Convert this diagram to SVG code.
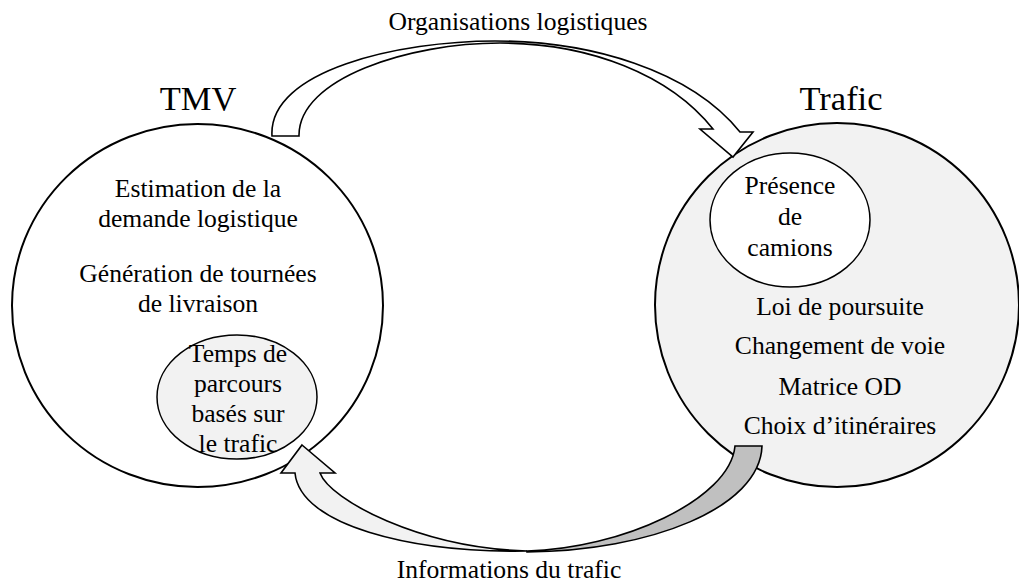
<svg xmlns="http://www.w3.org/2000/svg" width="1019" height="585" viewBox="0 0 1019 585">
<style>
text{font-family:'Liberation Serif','Times New Roman',Tinos,serif;font-size:25.6px;fill:#000;text-anchor:middle}
.title{font-size:34.5px}
.big{stroke:#000;stroke-width:2}
.small{stroke:#000;stroke-width:1.5}
.arrow{stroke:#000;stroke-width:1.6;stroke-linejoin:miter}
</style>
<rect width="1019" height="585" fill="#fff"/>
<g id="node-tmv">
<ellipse class="big" cx="197.5" cy="305.5" rx="185.5" ry="181.5" fill="#fff"/>
<text class="title" x="198" y="110">TMV</text>
<text x="198" y="197">Estimation de la</text>
<text x="198" y="227">demande logistique</text>
<text x="198" y="282">Génération de tournées</text>
<text x="198" y="312">de livraison</text>
</g>
<g id="node-temps">
<ellipse class="small" cx="237" cy="397" rx="80" ry="62" fill="#f2f2f2"/>
<text x="238" y="362">Temps de</text>
<text x="238" y="392">parcours</text>
<text x="238" y="422">basés sur</text>
<text x="238" y="452">le trafic</text>
</g>
<g id="node-trafic">
<ellipse class="big" cx="837" cy="305" rx="182" ry="182" fill="#f2f2f2"/>
<text class="title" x="841" y="110">Trafic</text>
<text x="840" y="315">Loi de poursuite</text>
<text x="840" y="354">Changement de voie</text>
<text x="840" y="395">Matrice OD</text>
<text x="840" y="434">Choix d’itinéraires</text>
</g>
<g id="node-presence">
<ellipse class="small" cx="790" cy="220" rx="80" ry="67" fill="#fff"/>
<text x="790" y="194">Présence</text>
<text x="790" y="225">de</text>
<text x="790" y="256">camions</text>
</g>
<g id="connectors">
<path class="arrow" fill="#fff" d="M272,136 C268,70 400,41 495,41 C590,41 690,70 740,132 L753,132 L733,157 L700,129 L713,129 C670,75 590,43 500,43 C410,43 298,78 299,136 Z"/>
<text x="518" y="30">Organisations logistiques</text>
<path class="arrow" fill="#c0c0c0" d="M527,551 C620,549 730,500 735,446 L762,446 C760,508 650,551 527,552 Z"/>
<path class="arrow" fill="#f2f2f2" d="M302,445 L335,473 L320,473 C330,500 420,548 527,551 C410,553 300,525 295,473 L281,473 Z"/>
<text x="509" y="578">Informations du trafic</text>
</g>
</svg>
